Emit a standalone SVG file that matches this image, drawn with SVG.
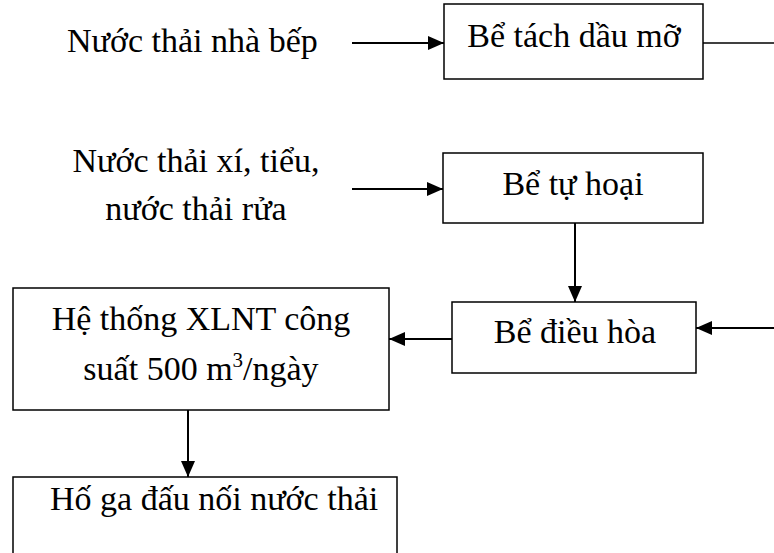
<svg xmlns="http://www.w3.org/2000/svg" width="774" height="553" viewBox="0 0 774 553">
<style>
.box{fill:#fff;stroke:#000;stroke-width:1.5}
text{font-family:'Liberation Serif','DejaVu Serif',serif;font-size:34px;fill:#000}
.c{text-anchor:middle}
.ln{stroke:#000;stroke-width:2;fill:none}
</style>
<defs>
<marker id="ah" markerWidth="16" markerHeight="14" refX="16" refY="7" orient="auto" markerUnits="userSpaceOnUse">
<path d="M0,0 L16,7 L0,14 Z" fill="#000"/>
</marker>
</defs>
<rect width="774" height="553" fill="#fff"/>
<g id="src1"><text x="67" y="52">Nước thải nhà bếp</text></g>
<g id="src2"><text class="c" x="196" y="172">Nước thải xí, tiểu,</text><text class="c" x="196" y="220">nước thải rửa</text></g>
<g id="n1"><rect class="box" x="444" y="4" width="259" height="75"/><text class="c" x="574" y="47">Bể tách dầu mỡ</text></g>
<g id="n2"><rect class="box" x="443" y="153" width="260" height="70"/><text class="c" x="573" y="195">Bể tự hoại</text></g>
<g id="n3"><rect class="box" x="452" y="302" width="244" height="71"/><text class="c" x="575" y="343">Bể điều hòa</text></g>
<g id="n4"><rect class="box" x="13" y="288" width="376" height="122"/><text class="c" x="201" y="330">Hệ thống XLNT công</text><text class="c" x="201" y="380">suất 500 m<tspan font-size="21" dy="-13">3</tspan><tspan dy="13">/ngày</tspan></text></g>
<g id="n5"><rect class="box" x="13" y="477" width="384" height="90"/><text x="50" y="510">Hố ga đấu nối nước thải</text></g>
<g id="connectors">
<line class="ln" x1="352" y1="43" x2="444" y2="43" marker-end="url(#ah)"/>
<line x1="703" y1="43" x2="774" y2="43" stroke="#000" stroke-width="1.5"/>
<line class="ln" x1="352" y1="189" x2="443" y2="189" marker-end="url(#ah)"/>
<line class="ln" x1="575" y1="223" x2="575" y2="302" marker-end="url(#ah)"/>
<line class="ln" x1="774" y1="328" x2="696" y2="328" marker-end="url(#ah)"/>
<line class="ln" x1="452" y1="339" x2="389" y2="339" marker-end="url(#ah)"/>
<line class="ln" x1="188" y1="410" x2="188" y2="477" marker-end="url(#ah)"/>
</g>
</svg>
